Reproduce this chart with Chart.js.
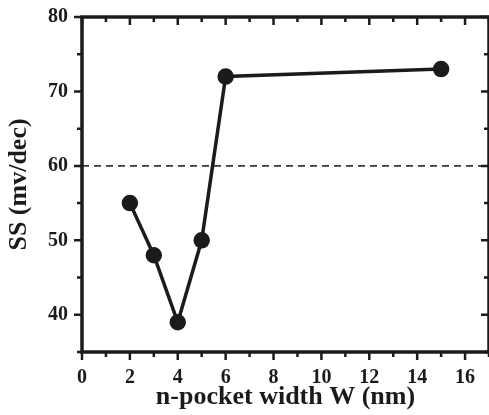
<!DOCTYPE html>
<html>
<head>
<meta charset="utf-8">
<script src="https://cdn.jsdelivr.net/npm/chart.js@4/dist/chart.umd.min.js"></script>
<style>
  html, body { margin: 0; padding: 0; background: #fff; overflow: hidden; }
</style>
</head>
<body>
<canvas id="chart" width="489" height="415"></canvas>
<script>
// subthreshold swing vs n-pocket width
var widths = [2, 3, 4, 5, 6, 15];
var ssValues = [55, 48, 39, 50, 72, 73];
var refLevel = 60;
var xRange = [0, 17];
var yRange = [35, 80];

var ink = "#1b1b1b";
var serif = "'Liberation Serif', 'DejaVu Serif', serif";

// draws the box round the plot with its major/minor tick marks
var frameTicks = {
  id: "frameTicks",
  afterDraw: function(chart) {
    var ctx = chart.ctx, a = chart.chartArea;
    var xs = chart.scales.x, ys = chart.scales.y;
    ctx.save();
    ctx.strokeStyle = ink;
    ctx.lineWidth = 2.5;
    xs.ticks.forEach(function(t) {
      var px = xs.getPixelForValue(t.value);
      var len = t.value % 2 === 0 ? 8 : 5;
      ctx.beginPath();
      ctx.moveTo(px, a.bottom); ctx.lineTo(px, a.bottom + len);
      ctx.moveTo(px, a.top); ctx.lineTo(px, a.top + len);
      ctx.stroke();
    });
    ys.ticks.forEach(function(t) {
      var py = ys.getPixelForValue(t.value);
      var len = t.value % 10 === 0 ? 8 : 5;
      ctx.beginPath();
      ctx.moveTo(a.left, py); ctx.lineTo(a.left - len, py);
      ctx.moveTo(a.right, py); ctx.lineTo(a.right - len, py);
      ctx.stroke();
    });
    ctx.lineWidth = 3.5;
    ctx.strokeRect(a.left, a.top, a.right - a.left, a.bottom - a.top);
    ctx.restore();
  }
};

// fixed axis sizes, no extra room for overhanging labels
function fixSize(prop, size) {
  return function(s) {
    s[prop] = size;
    s.paddingTop = s.paddingBottom = s.paddingLeft = s.paddingRight = 0;
  };
}

new Chart(document.getElementById("chart"), {
  type: "scatter",
  data: {
    datasets: [
      {
        data: widths.map(function(w, i) { return {x: w, y: ssValues[i]}; }),
        showLine: true,
        borderColor: ink,
        backgroundColor: ink,
        borderWidth: 3.5,
        pointRadius: 6.5,
        pointHoverRadius: 6.5
      },
      {
        data: [{x: xRange[0], y: refLevel}, {x: xRange[1], y: refLevel}],
        showLine: true,
        borderColor: "#3a3a3a",
        borderWidth: 1.8,
        borderDash: [7, 5],
        pointRadius: 0
      }
    ]
  },
  options: {
    responsive: false,
    animation: false,
    // right edge of the frame sits just past the canvas edge
    layout: { autoPadding: false, padding: { left: 0, top: 17, right: -3, bottom: 0 } },
    plugins: { legend: { display: false }, tooltip: { enabled: false } },
    scales: {
      x: {
        type: "linear",
        min: xRange[0], max: xRange[1],
        grid: { display: false, drawTicks: false },
        border: { display: false },
        ticks: {
          stepSize: 1,
          autoSkip: false,
          maxRotation: 0,
          padding: 14,
          color: ink,
          font: { family: serif, size: 20, weight: "bold" },
          callback: function(v) { return v % 2 === 0 ? v : ""; }
        },
        title: {
          display: true,
          text: "n-pocket width W (nm)",
          color: ink,
          font: { family: serif, size: 26, weight: "bold" },
          padding: { top: 0, bottom: 2 }
        },
        afterFit: fixSize("height", 63)
      },
      y: {
        min: yRange[0], max: yRange[1],
        grid: { display: false, drawTicks: false },
        border: { display: false },
        ticks: {
          stepSize: 5,
          autoSkip: false,
          padding: 14,
          color: ink,
          font: { family: serif, size: 20, weight: "bold" },
          callback: function(v) { return v % 10 === 0 ? v : ""; }
        },
        title: {
          display: true,
          text: "SS (mv/dec)",
          color: ink,
          font: { family: serif, size: 26, weight: "bold" },
          padding: { top: 4, bottom: 0 }
        },
        afterFit: fixSize("width", 82)
      }
    }
  },
  plugins: [frameTicks]
});
</script>
</body>
</html>
